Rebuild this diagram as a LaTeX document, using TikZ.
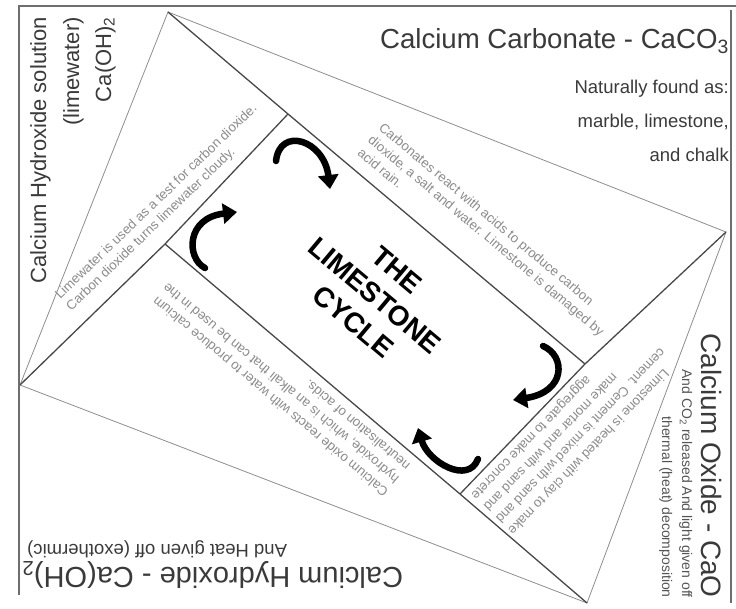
\documentclass[tikz,border=0pt]{standalone}
\usepackage{fontspec}
\setmainfont{Liberation Sans}
\usetikzlibrary{arrows.meta}
\definecolor{framegray}{HTML}{6E6E6E}
\definecolor{thingray}{HTML}{8E8E8E}
\definecolor{thickgray}{HTML}{484848}
\definecolor{labelgray}{HTML}{3A3A3A}
\definecolor{notegray}{HTML}{555555}
\definecolor{smallgray}{HTML}{8C8C8C}
\begin{document}
\begin{tikzpicture}[x=1pt,y=-1pt,
  frameline/.style={draw=framegray, line width=1.3pt},
  thinline/.style={draw=thingray, line width=0.8pt},
  thickline/.style={draw=thickgray, line width=1.3pt},
  bigtext/.style={text=labelgray, inner sep=0pt, font=\fontsize{28}{32}\selectfont},
  bottomtext/.style={text=labelgray, inner sep=0pt, font=\fontsize{29}{33}\selectfont},
  carbtext/.style={text=labelgray, inner sep=0pt, font=\fontsize{27.6}{32}\selectfont},
  hydtext/.style={text=labelgray, inner sep=0pt, font=\fontsize{22}{26}\selectfont},
  subtext/.style={text=labelgray, inner sep=0pt, font=\fontsize{18.5}{22}\selectfont},
  notetext/.style={text=notegray, inner sep=0pt, font=\fontsize{14}{17}\selectfont},
  smalltext/.style={text=smallgray, inner sep=0pt, font=\fontsize{13.3}{16}\selectfont},
  cyclearrow/.style={draw=black, line width=6.5pt, line cap=round, -{Triangle[length=14pt,width=20pt]}},
]
\useasboundingbox (0,0) rectangle (736,609);
\fill[white] (0,0) rectangle (736,609);

% frame
\coordinate (F1) at (19,595);
\coordinate (F2) at (19,6);
\coordinate (F3) at (736,6);
\coordinate (F4) at (731,10);
\coordinate (F5) at (731,603);
\draw[frameline] (F1) -- (F2) -- (F3);
\draw[frameline] (F4) -- (F5);

% pinwheel geometry
\coordinate (T) at (168,12);
\coordinate (R) at (726,232);
\coordinate (B) at (587,603);
\coordinate (L) at (20,385);
\coordinate (C1) at (288,114);
\coordinate (C2) at (585,364);
\coordinate (C3) at (460,494);
\coordinate (C4) at (165,244);

\draw[thinline] (T) -- (R) -- (B) -- (L) -- cycle;
\draw[thickline] (T) -- (C1) -- (C2);
\draw[thickline] (R) -- (C2) -- (C3);
\draw[thickline] (B) -- (C3) -- (C4);
\draw[thickline] (L) -- (C4) -- (C1);

% big labels
\node[hydtext, rotate=90, anchor=base east] (hyd1) at (46,17) {Calcium Hydroxide solution};
\node[hydtext, rotate=90, anchor=base east] (hyd2) at (79,17) {(limewater)};
\node[hydtext, rotate=90, anchor=base east] (hyd3) at (111,17) {Ca(OH)\textsubscript{2}};

\node[carbtext, anchor=base east] (carb1) at (729,49) {Calcium Carbonate - CaCO\textsubscript{3}};
\node[subtext, anchor=base east] (carb2) at (729,94) {Naturally found as:};
\node[subtext, anchor=base east] (carb3) at (729,128) {marble, limestone,};
\node[subtext, anchor=base east] (carb4) at (729,162) {and chalk};

\node[bigtext, rotate=-90, anchor=base east] (oxi1) at (701,598) {Calcium Oxide - CaO};
\node[notetext, rotate=-90, anchor=base east] (oxi2) at (682,598) {And CO\textsubscript{2} released And light given off};
\node[notetext, rotate=-90, anchor=base east] (oxi3) at (662,598) {thermal (heat) decomposition};

\node[bottomtext, rotate=180, anchor=base east] (hyb1) at (22,567) {Calcium Hydroxide - Ca(OH)\textsubscript{2}};
\node[subtext, rotate=180, anchor=base east] (hyb2) at (27,544) {And Heat given off (exothermic)};

% flap texts
\begin{scope}[shift={(83.1,323.7)}, rotate=44, transform shape]
  \node[smalltext, anchor=base west] (lw1) at (0,-33) {Limewater is used as a test for carbon dioxide.};
  \node[smalltext, anchor=base west] (lw2) at (0,-17) {Carbon dioxide turns limewater cloudy.};
\end{scope}

\begin{scope}[shift={(348.3,164.2)}, rotate=-40, transform shape]
  \node[smalltext, anchor=base west] (cb1) at (0,-46) {Carbonates react with acids to produce carbon};
  \node[smalltext, anchor=base west] (cb2) at (0,-29.5) {dioxide, a salt and water. Limestone is damaged by};
  \node[smalltext, anchor=base west] (cb3) at (0,-13) {acid rain.};
\end{scope}

\begin{scope}[shift={(416.8,457.5)}, rotate=140, transform shape]
  \node[smalltext, anchor=base west] (co1) at (0,-43) {Calcium oxide reacts with water to produce calcium};
  \node[smalltext, anchor=base west] (co2) at (0,-26) {hydroxide, which is an alkali that can be used in the};
  \node[smalltext, anchor=base west] (co3) at (0,-9) {neutralisation of acids.};
\end{scope}

\begin{scope}[shift={(464.9,489)}, rotate=226, transform shape]
  \node[smalltext, anchor=base east] (ls1) at (0,-59) {Limestone is heated with clay to make};
  \node[smalltext, anchor=base east] (ls2) at (0,-42) {cement. Cement is mixed with sand and};
  \node[smalltext, anchor=base east] (ls3) at (0,-25) {make mortar and with sand and};
  \node[smalltext, anchor=base east] (ls4) at (0,-8) {aggregate to make concrete};
\end{scope}

% centre title
\node[rotate=-40, align=center, inner sep=0pt, text=black,
      font=\bfseries\fontsize{28}{34}\selectfont] (title) at (375,296) {THE\\LIMESTONE\\CYCLE};

% cycle arrows
\coordinate (a1s) at (276,161);
\coordinate (a1e) at (330,189);
\coordinate (a2s) at (543,346);
\coordinate (a2e) at (513,400);
\coordinate (a3s) at (478,459);
\coordinate (a3e) at (418,428);
\coordinate (a4s) at (205,268);
\coordinate (a4e) at (237,212);
\draw[cyclearrow] (a1s) .. controls (280,126) and (324,140) .. (a1e);
\draw[cyclearrow] (a2s) .. controls (566,356) and (566,392) .. (a2e);
\draw[cyclearrow] (a3s) .. controls (468,485) and (428,462) .. (a3e);
\draw[cyclearrow] (a4s) .. controls (186,258) and (186,218) .. (a4e);
\end{tikzpicture}
\end{document}
